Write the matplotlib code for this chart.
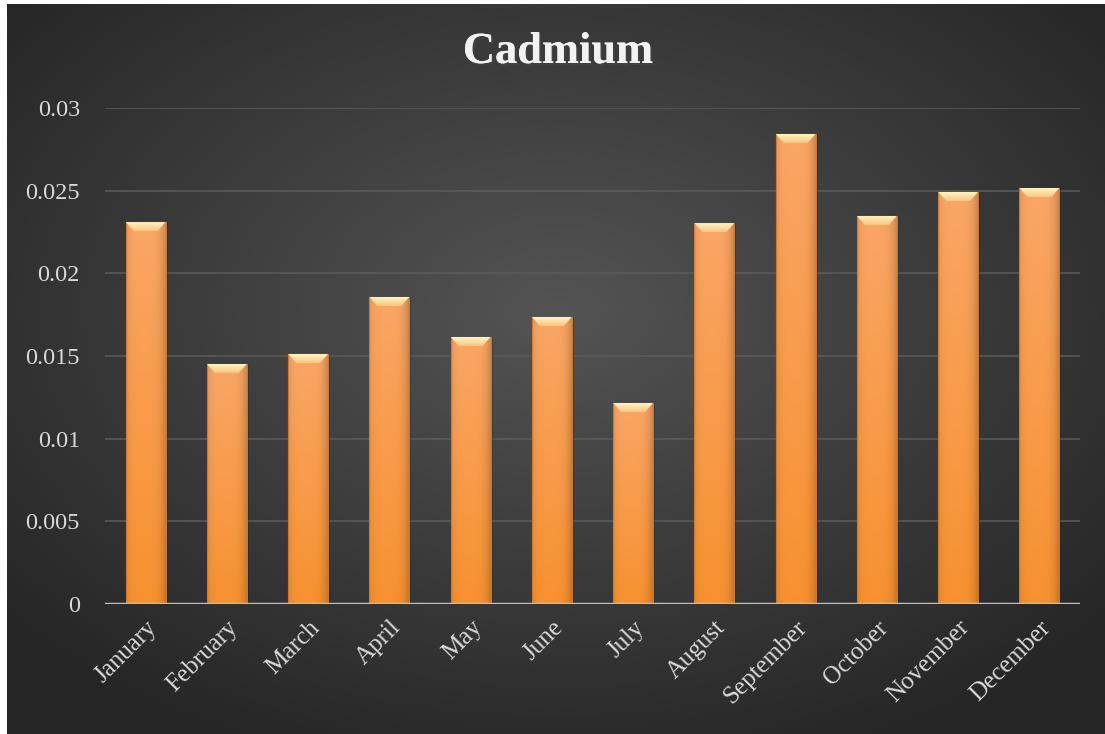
#!/usr/bin/env python3
"""Monthly cadmium bar chart on a dark radial background."""
import matplotlib.pyplot as plt
import matplotlib.patheffects as pe
import numpy as np
from matplotlib.patches import Polygon, Rectangle

months = ["January", "February", "March", "April", "May", "June", "July",
          "August", "September", "October", "November", "December"]
cadmium = [0.0231, 0.01452, 0.01512, 0.01857, 0.01615, 0.01736, 0.01216,
           0.02304, 0.02843, 0.02347, 0.02492, 0.02516]
y_ticks = [0, 0.005, 0.01, 0.015, 0.02, 0.025, 0.03]
y_tick_labels = ["0", "0.005", "0.01", "0.015", "0.02", "0.025", "0.03"]

W, H = 1105, 734
FONT = ["Liberation Serif", "DejaVu Serif"]

fig = plt.figure(figsize=(W / 100, H / 100), dpi=100)
fig.patch.set_facecolor("white")

# radial dark background
bg = fig.add_axes([7 / W, 0, 1 - 7 / W, 1 - 4 / H])
yy, xx = np.mgrid[0:1:300j, 0:1:450j]
r = np.sqrt(((xx - 0.5) / 0.66) ** 2 + ((yy - 0.42) / 0.66) ** 2)
shade = 0.33 - 0.18 * np.clip(r, 0, 1)
bg.imshow(shade, cmap="gray", vmin=0, vmax=1, extent=[0, 1, 0, 1],
          aspect="auto", origin="upper", interpolation="bicubic")
bg.axis("off")

ax = fig.add_axes([105 / W, 1 - 604 / H, 975 / W, (604 - 108) / H])
ax.set_facecolor("none")
x = np.arange(len(months))
bar_w = 0.49

for tick in y_ticks[1:]:
    ax.axhline(tick, color="#5c5c5c", lw=1.1, zorder=1)

bars = ax.bar(x, cadmium, width=bar_w, color="none", edgecolor="none", zorder=3)

# gradient fill for the bars
ny, nx = 64, 32
gy = np.linspace(0, 1, ny)[:, None]      # 0 top -> 1 bottom
gx = np.linspace(0, 1, nx)[None, :]
top_c = np.array([0.98, 0.65, 0.40])
bot_c = np.array([0.97, 0.57, 0.19])
grad = top_c[None, None, :] * (1 - gy[..., None]) + bot_c[None, None, :] * gy[..., None]
edge = np.clip(1 - 0.18 * (np.abs(gx - 0.45) / 0.55) ** 4, 0, 1)
grad = grad * edge[..., None]
grad = np.broadcast_to(grad, (ny, nx, 3))

# bevel on the bar tops: light yellow fading into orange
by = np.linspace(0, 1, 16)[:, None, None]
bevel_grad = np.array([1.0, 0.95, 0.76]) * (1 - by) + np.array([0.98, 0.78, 0.50]) * by
bevel_grad = np.broadcast_to(bevel_grad, (16, 4, 3))

bevel_h = 0.03 * 9 / 496
bevel_in = bar_w * 0.2
for bar in bars:
    x0, w, h = bar.get_x(), bar.get_width(), bar.get_height()
    ax.add_patch(Rectangle((x0 + 0.025, 0), w, h, facecolor="black",
                           alpha=0.22, edgecolor="none", zorder=2))
    im = ax.imshow(grad, extent=[x0, x0 + w, 0, h], aspect="auto",
                   origin="upper", zorder=3, interpolation="bilinear")
    im.set_clip_path(bar)
    ax.add_patch(Rectangle((x0, 0), w, h, facecolor="none",
                           edgecolor="#c87a34", lw=0.8, zorder=4))
    bevel = Polygon([(x0, h), (x0 + w, h), (x0 + w - bevel_in, h - bevel_h),
                     (x0 + bevel_in, h - bevel_h)], closed=True,
                    facecolor="none", edgecolor="none", zorder=5)
    ax.add_patch(bevel)
    bim = ax.imshow(bevel_grad, extent=[x0, x0 + w, h - bevel_h, h], aspect="auto",
                    origin="upper", zorder=5, interpolation="bilinear")
    bim.set_clip_path(bevel)

ax.axhline(0, color="#bdbdbd", lw=2.5, zorder=6)

ax.set_xlim(-0.5, len(months) - 0.5)
ax.set_ylim(0, 0.03)
ax.set_yticks(y_ticks)
ax.set_yticklabels(y_tick_labels, family=FONT, fontsize=17.5, color="#d9d9d9")
ax.set_xticks(x)
ax.set_xticklabels(months, family=FONT, fontsize=18, color="#d9d9d9",
                   rotation=45, ha="right", va="top", rotation_mode="anchor")
ax.tick_params(axis="both", length=0)
ax.tick_params(axis="x", pad=9)
ax.tick_params(axis="y", pad=18)
for spine in ax.spines.values():
    spine.set_visible(False)

title = fig.text(0.505, 1 - 52 / H, "Cadmium", ha="center", va="center",
                 family=FONT, fontsize=32, fontweight="bold", color="#f2f2f2")
title.set_path_effects([pe.withSimplePatchShadow(offset=(1.5, -1.5), alpha=0.5),
                        pe.Normal()])

fig.savefig("out.png", dpi=100)
